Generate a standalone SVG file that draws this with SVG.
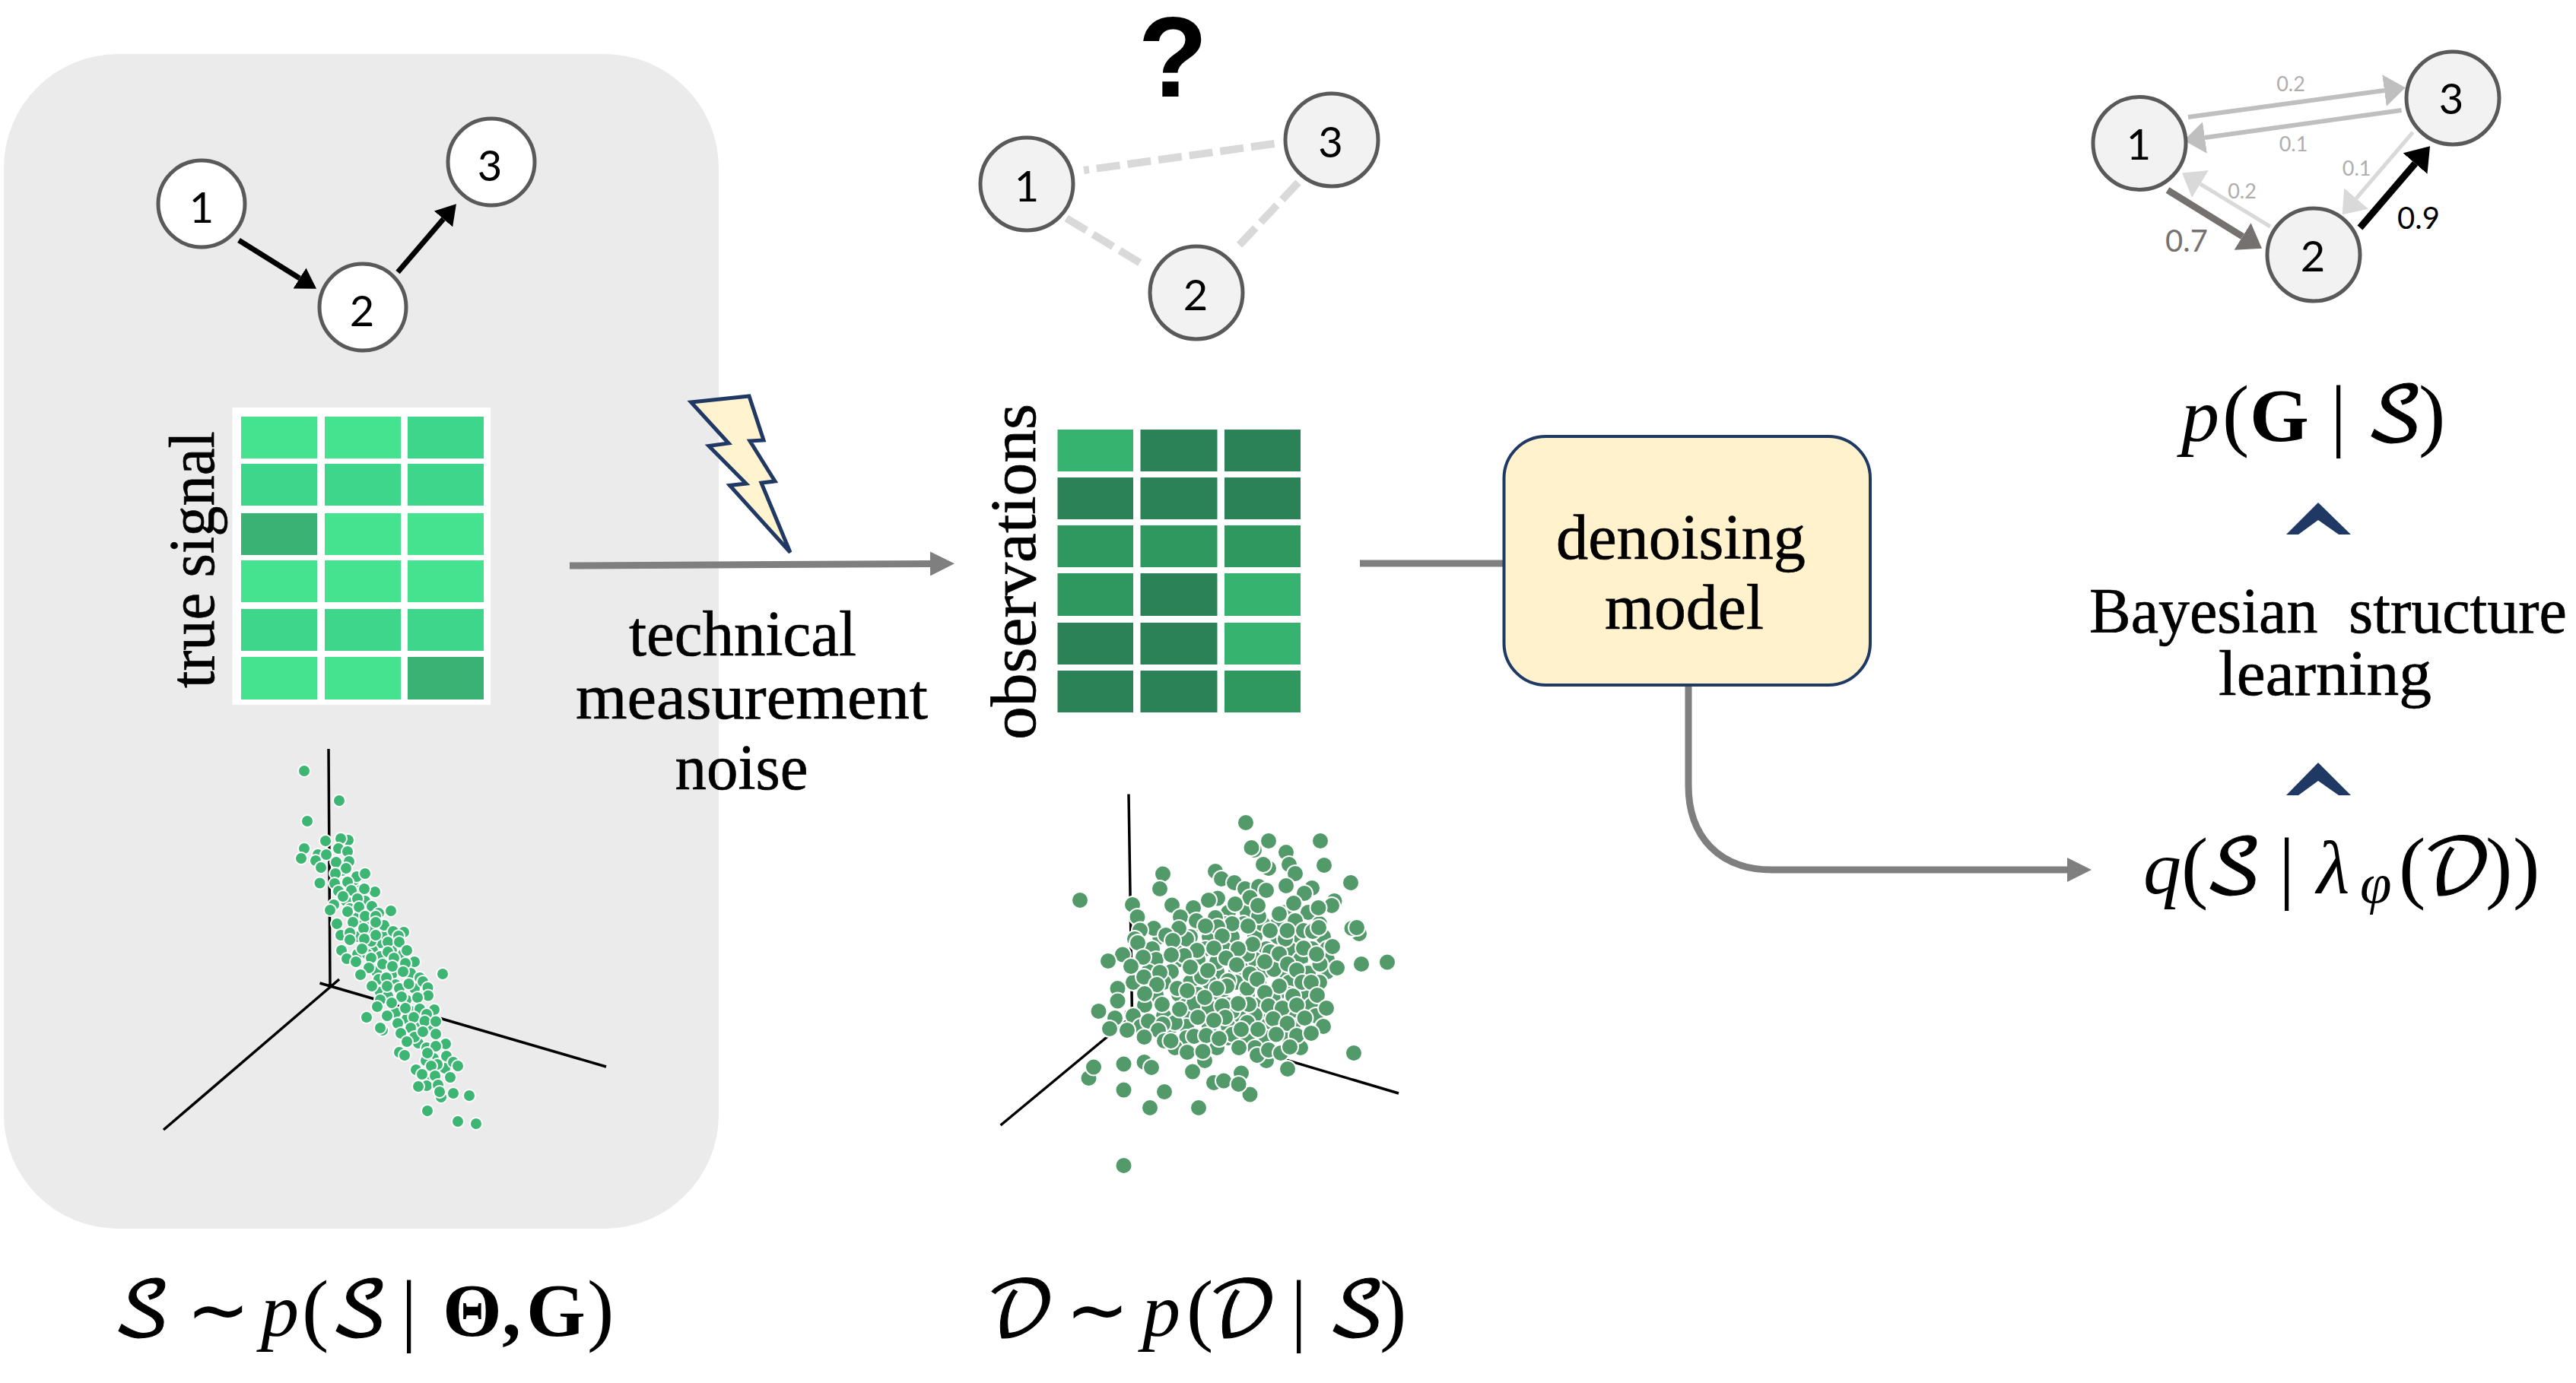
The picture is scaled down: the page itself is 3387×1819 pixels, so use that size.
<svg xmlns="http://www.w3.org/2000/svg" width="3387" height="1819" viewBox="0 0 3387 1819">
<style>
.s{font-family:"Liberation Serif","Times New Roman",serif;fill:#000;stroke:#000;stroke-width:.7}
.big{font-size:85px}
.n{font-family:Lato,"Open Sans",sans-serif;font-size:56px;text-anchor:middle;fill:#000}
.e{font-family:Lato,"Open Sans",sans-serif;text-anchor:middle}
.wn{fill:#fff;stroke:#595959;stroke-width:5}
.gn{fill:#f2f2f2;stroke:#595959;stroke-width:5}
.m{font-family:"Liberation Serif",serif;font-size:100px;fill:#000}
.i{font-style:italic}
.b{font-weight:bold}
.c{font-family:"DejaVu Math TeX Gyre","Noto Sans Math","DejaVu Serif","DejaVu Sans",serif;font-style:normal;stroke:#000;stroke-width:1}
.p{font-size:106px}
.d1 circle{fill:#3DB573;stroke:#fff;stroke-width:2;r:8px}
.d2 circle{fill:#529A69;stroke:#fff;stroke-width:2;r:11px}
.ax{stroke:#000;stroke-width:3.5;fill:none}
.a{fill:#45E390}.b1{fill:#3ED68A}.c1{fill:#3AB273}
.L{fill:#36B36F}.D{fill:#2A8256}.M{fill:#2F985F}
.gl{stroke:#7f7f7f;stroke-width:9;fill:none}
.dash{stroke:#d9d9d9;stroke-width:10;stroke-dasharray:31 10;fill:none}
.chev{fill:#1F3864}
</style>
<defs>
<marker id="hk" markerUnits="userSpaceOnUse" markerWidth="26" markerHeight="32" refX="0" refY="16" orient="auto" viewBox="0 0 26 32"><path d="M0 0L26 16L0 32z" fill="#000"/></marker>
<marker id="hg" markerUnits="userSpaceOnUse" markerWidth="32" markerHeight="32" refX="0" refY="16" orient="auto" viewBox="0 0 32 32"><path d="M0 0L32 16L0 32z" fill="#7f7f7f"/></marker>
<marker id="hb" markerUnits="userSpaceOnUse" markerWidth="28" markerHeight="42" refX="0" refY="21" orient="auto" viewBox="0 0 28 42"><path d="M0 0L28 21L0 42z" fill="#bfbfbf"/></marker>
<marker id="hl" markerUnits="userSpaceOnUse" markerWidth="28" markerHeight="42" refX="0" refY="21" orient="auto" viewBox="0 0 28 42"><path d="M0 0L28 21L0 42z" fill="#d9d9d9"/></marker>
<marker id="hd" markerUnits="userSpaceOnUse" markerWidth="30" markerHeight="42" refX="0" refY="21" orient="auto" viewBox="0 0 30 42"><path d="M0 0L30 21L0 42z" fill="#767171"/></marker>
<marker id="hK" markerUnits="userSpaceOnUse" markerWidth="30" markerHeight="42" refX="0" refY="21" orient="auto" viewBox="0 0 30 42"><path d="M0 0L30 21L0 42z" fill="#000"/></marker>
</defs>

<rect id="signal-panel" x="5" y="71" width="940" height="1545" rx="150" ry="150" fill="#ebebeb"/>

<g id="connectors" fill="none">
<path d="M314 316L394 366" stroke="#000" stroke-width="7" marker-end="url(#hk)"/>
<path d="M523 358L583 288" stroke="#000" stroke-width="7" marker-end="url(#hk)"/>
<path class="dash" d="M1675.600 189L1425 224"/>
<path class="dash" d="M1402 287L1501 347"/>
<path class="dash" d="M1707 240L1627 325"/>
<path class="gl" d="M749 744L1223 741.500" marker-end="url(#hg)"/>
<path class="gl" d="M1788 741H1977"/>
<path class="gl" d="M2220 901V1033C2220 1100 2260 1144 2330 1144H2718" marker-end="url(#hg)"/>
<path d="M2877 154L3135 119" stroke="#bfbfbf" stroke-width="6" marker-end="url(#hb)"/>
<path d="M3157.500 145L2899 181" stroke="#bfbfbf" stroke-width="6" marker-end="url(#hb)"/>
<path d="M2850 250L2948.500 311" stroke="#767171" stroke-width="9" marker-end="url(#hd)"/>
<path d="M2985 298L2893 242" stroke="#d9d9d9" stroke-width="5" marker-end="url(#hl)"/>
<path d="M3103 299.500L3175.500 215" stroke="#000" stroke-width="9" marker-end="url(#hK)"/>
<path d="M3172.500 174L3098 261" stroke="#d9d9d9" stroke-width="5" marker-end="url(#hl)"/>
</g>

<g id="true-graph">
<g id="t1"><circle class="wn" cx="265" cy="268" r="57"/><text class="n" x="265" y="293">1</text></g>
<g id="t2"><circle class="wn" cx="477" cy="404" r="57"/><text class="n" x="476" y="429">2</text></g>
<g id="t3"><circle class="wn" cx="646" cy="213" r="57"/><text class="n" x="644" y="238">3</text></g>
</g>

<g id="signal-table">
<rect x="305.500" y="536" width="339.500" height="391" fill="#fff"/>
<rect class="a" x="317" y="548" width="100" height="55"/><rect class="a" x="427" y="548" width="100" height="55"/><rect class="b1" x="536" y="548" width="100" height="55"/>
<rect class="b1" x="317" y="610" width="100" height="55"/><rect class="b1" x="427" y="610" width="100" height="55"/><rect class="b1" x="536" y="610" width="100" height="55"/>
<rect class="c1" x="317" y="675" width="100" height="55"/><rect class="a" x="427" y="675" width="100" height="55"/><rect class="a" x="536" y="675" width="100" height="55"/>
<rect class="a" x="317" y="737" width="100" height="55"/><rect class="a" x="427" y="737" width="100" height="55"/><rect class="a" x="536" y="737" width="100" height="55"/>
<rect class="b1" x="317" y="801" width="100" height="55"/><rect class="b1" x="427" y="801" width="100" height="55"/><rect class="b1" x="536" y="801" width="100" height="55"/>
<rect class="a" x="317" y="864" width="100" height="56"/><rect class="a" x="427" y="864" width="100" height="56"/><rect class="c1" x="536" y="864" width="100" height="56"/>
<text class="s big" transform="translate(281 905) rotate(-90)" textLength="338" lengthAdjust="spacingAndGlyphs">true signal</text>
</g>

<g id="signal-scatter">
<path class="ax" d="M432 985L434 1297M215 1486L446 1288M420.500 1293L797 1403"/>
<g class="d1">
<circle cx="450" cy="1145"/><circle cx="465" cy="1160"/><circle cx="455" cy="1185"/><circle cx="480" cy="1185"/><circle cx="465" cy="1205"/><circle cx="490" cy="1222"/><circle cx="470" cy="1232"/><circle cx="500" cy="1240"/><circle cx="515" cy="1250"/><circle cx="490" cy="1250"/><circle cx="470" cy="1255"/><circle cx="500" cy="1258"/><circle cx="525" cy="1265"/><circle cx="495" cy="1278"/><circle cx="515" cy="1282"/><circle cx="540" cy="1280"/><circle cx="520" cy="1295"/><circle cx="500" cy="1305"/><circle cx="545" cy="1300"/><circle cx="525" cy="1300"/><circle cx="510" cy="1310"/><circle cx="540" cy="1330"/><circle cx="520" cy="1332"/><circle cx="550" cy="1345"/><circle cx="535" cy="1340"/><circle cx="565" cy="1350"/><circle cx="550" cy="1372"/><circle cx="570" cy="1392"/><circle cx="580" cy="1405"/><circle cx="560" cy="1395"/><circle cx="585" cy="1405"/><circle cx="575" cy="1400"/><circle cx="565" cy="1420"/><circle cx="478" cy="1215"/><circle cx="488" cy="1238"/><circle cx="505" cy="1228"/><circle cx="530" cy="1255"/><circle cx="460" cy="1195"/><circle cx="475" cy="1170"/>
<circle cx="400" cy="1014"/><circle cx="446" cy="1053"/><circle cx="404" cy="1080"/><circle cx="458" cy="1105"/><circle cx="448" cy="1103"/><circle cx="428" cy="1106"/><circle cx="400" cy="1116"/><circle cx="396" cy="1129"/><circle cx="418" cy="1124"/><circle cx="415" cy="1132"/><circle cx="445" cy="1116"/><circle cx="457" cy="1120"/><circle cx="429" cy="1124"/><circle cx="459" cy="1133"/><circle cx="442" cy="1134"/><circle cx="422" cy="1141"/><circle cx="455" cy="1142"/><circle cx="441" cy="1149"/><circle cx="469" cy="1153"/><circle cx="480" cy="1149"/><circle cx="420.500" cy="1161.500"/><circle cx="440" cy="1162"/><circle cx="457" cy="1160"/><circle cx="462" cy="1171"/><circle cx="493" cy="1173"/><circle cx="479" cy="1169"/><circle cx="445" cy="1172"/><circle cx="451" cy="1179"/><circle cx="470" cy="1182"/><circle cx="439" cy="1190"/><circle cx="489" cy="1192"/><circle cx="472" cy="1193"/><circle cx="434" cy="1197"/><circle cx="457" cy="1199"/><circle cx="514" cy="1198"/><circle cx="498" cy="1201"/><circle cx="480" cy="1205"/><circle cx="494" cy="1205"/><circle cx="505" cy="1217"/><circle cx="494" cy="1213"/><circle cx="443" cy="1215"/><circle cx="464" cy="1213"/><circle cx="478" cy="1221"/><circle cx="531" cy="1226"/><circle cx="517" cy="1225"/><circle cx="448" cy="1230"/><circle cx="460" cy="1227"/><circle cx="460" cy="1236"/><circle cx="524" cy="1231"/><circle cx="494" cy="1230"/><circle cx="479" cy="1235"/><circle cx="510" cy="1239"/><circle cx="525" cy="1239"/><circle cx="483" cy="1255"/><circle cx="476" cy="1248"/><circle cx="449" cy="1250"/><circle cx="510" cy="1252"/><circle cx="535" cy="1250"/><circle cx="456" cy="1261"/><circle cx="488" cy="1260"/><circle cx="518" cy="1260"/><circle cx="468" cy="1265"/><circle cx="503" cy="1268"/><circle cx="545" cy="1265"/><circle cx="533" cy="1267"/><circle cx="485" cy="1273"/><circle cx="516" cy="1271"/><circle cx="474" cy="1282"/><circle cx="530" cy="1278"/><circle cx="582" cy="1281"/><circle cx="552" cy="1286"/><circle cx="498" cy="1288"/><circle cx="508" cy="1286"/><circle cx="556" cy="1291"/><circle cx="537.500" cy="1294"/><circle cx="489" cy="1297"/><circle cx="509" cy="1297"/><circle cx="562.500" cy="1299"/><circle cx="563" cy="1309.500"/><circle cx="500" cy="1315"/><circle cx="534" cy="1315"/><circle cx="528" cy="1311"/><circle cx="549" cy="1312"/><circle cx="515" cy="1319"/><circle cx="496" cy="1324"/><circle cx="533" cy="1326"/><circle cx="552" cy="1327"/><circle cx="571" cy="1328"/><circle cx="482" cy="1338"/><circle cx="509" cy="1336"/><circle cx="561" cy="1334"/><circle cx="544" cy="1338"/><circle cx="558.500" cy="1343"/><circle cx="573" cy="1343.500"/><circle cx="523" cy="1346"/><circle cx="503" cy="1355"/><circle cx="500" cy="1352"/><circle cx="540" cy="1352"/><circle cx="527" cy="1359"/><circle cx="545" cy="1364"/><circle cx="556" cy="1357"/><circle cx="573" cy="1360"/><circle cx="535" cy="1370"/><circle cx="586" cy="1373"/><circle cx="561" cy="1378"/><circle cx="573" cy="1376"/><circle cx="562" cy="1385"/><circle cx="525" cy="1384"/><circle cx="532" cy="1388"/><circle cx="587" cy="1389"/><circle cx="596" cy="1397"/><circle cx="602" cy="1402"/><circle cx="567" cy="1402"/><circle cx="547" cy="1407"/><circle cx="572" cy="1415"/><circle cx="555" cy="1413"/><circle cx="592" cy="1417"/><circle cx="561" cy="1428"/><circle cx="550" cy="1429"/><circle cx="576" cy="1427"/><circle cx="580" cy="1443"/><circle cx="578" cy="1436"/><circle cx="596" cy="1438"/><circle cx="617" cy="1441"/><circle cx="562" cy="1461"/><circle cx="602" cy="1475"/><circle cx="626" cy="1478"/>
</g>
</g>

<g id="noise-bolt"><path d="M908.600 529L985 521L1004 579L986 580L1019 633L1001 635L1039 726.500L959.500 638.500L981 636L932 586.500L958 583Z" fill="#fff2cc" fill-opacity=".92" stroke="#1F3864" stroke-width="5"/></g>

<g id="noise-label">
<text class="s big" x="827" y="862" textLength="299" lengthAdjust="spacingAndGlyphs">technical</text>
<text class="s big" x="757" y="945" textLength="463" lengthAdjust="spacingAndGlyphs">measurement</text>
<text class="s big" x="887.500" y="1038" textLength="175" lengthAdjust="spacingAndGlyphs">noise</text>
</g>

<text id="question" x="1542" y="127" font-family="Liberation Sans,Arial,sans-serif" font-weight="bold" font-size="150" text-anchor="middle">?</text>

<g id="unknown-graph">
<g id="o1"><circle class="gn" cx="1350" cy="242" r="61"/><text class="n" x="1350" y="265">1</text></g>
<g id="o2"><circle class="gn" cx="1573" cy="385" r="61"/><text class="n" x="1572" y="408">2</text></g>
<g id="o3"><circle class="gn" cx="1751" cy="184" r="61"/><text class="n" x="1749.500" y="207">3</text></g>
</g>

<g id="obs-table">
<rect class="L" x="1390.500" y="565" width="99.500" height="55"/><rect class="D" x="1499.500" y="565" width="101" height="55"/><rect class="D" x="1610" y="565" width="100" height="55"/>
<rect class="D" x="1390.500" y="628" width="99.500" height="55"/><rect class="D" x="1499.500" y="628" width="101" height="55"/><rect class="D" x="1610" y="628" width="100" height="55"/>
<rect class="M" x="1390.500" y="691" width="99.500" height="55"/><rect class="M" x="1499.500" y="691" width="101" height="55"/><rect class="M" x="1610" y="691" width="100" height="55"/>
<rect class="M" x="1390.500" y="754" width="99.500" height="56"/><rect class="D" x="1499.500" y="754" width="101" height="56"/><rect class="L" x="1610" y="754" width="100" height="56"/>
<rect class="D" x="1390.500" y="819" width="99.500" height="55"/><rect class="D" x="1499.500" y="819" width="101" height="55"/><rect class="L" x="1610" y="819" width="100" height="55"/>
<rect class="D" x="1390.500" y="882" width="99.500" height="55"/><rect class="D" x="1499.500" y="882" width="101" height="55"/><rect class="M" x="1610" y="882" width="100" height="55"/>
<text class="s big" transform="translate(1361 973) rotate(-90)" textLength="442" lengthAdjust="spacingAndGlyphs">observations</text>
</g>

<g id="obs-scatter">
<path class="ax" d="M1484 1044.500L1488.600 1343M1315.600 1480L1506 1322M1479 1331L1839 1438"/>
<g class="d2">
<circle cx="1615" cy="1200"/><circle cx="1640" cy="1200"/><circle cx="1690" cy="1200"/><circle cx="1720" cy="1200"/><circle cx="1575" cy="1215"/><circle cx="1610" cy="1215"/><circle cx="1635" cy="1215"/><circle cx="1680" cy="1215"/><circle cx="1700" cy="1215"/><circle cx="1735" cy="1215"/><circle cx="1525" cy="1232"/><circle cx="1565" cy="1232"/><circle cx="1590" cy="1232"/><circle cx="1620" cy="1232"/><circle cx="1650" cy="1232"/><circle cx="1680" cy="1232"/><circle cx="1705" cy="1232"/><circle cx="1740" cy="1232"/><circle cx="1515" cy="1248"/><circle cx="1555" cy="1248"/><circle cx="1585" cy="1248"/><circle cx="1610" cy="1248"/><circle cx="1640" cy="1248"/><circle cx="1665" cy="1248"/><circle cx="1695" cy="1248"/><circle cx="1725" cy="1248"/><circle cx="1745" cy="1248"/><circle cx="1520" cy="1262"/><circle cx="1550" cy="1262"/><circle cx="1575" cy="1262"/><circle cx="1605" cy="1262"/><circle cx="1635" cy="1262"/><circle cx="1650" cy="1262"/><circle cx="1680" cy="1262"/><circle cx="1710" cy="1262"/><circle cx="1745" cy="1262"/><circle cx="1510" cy="1278"/><circle cx="1540" cy="1278"/><circle cx="1570" cy="1278"/><circle cx="1600" cy="1278"/><circle cx="1625" cy="1278"/><circle cx="1660" cy="1278"/><circle cx="1690" cy="1278"/><circle cx="1720" cy="1278"/><circle cx="1745" cy="1278"/><circle cx="1490" cy="1292"/><circle cx="1530" cy="1292"/><circle cx="1565" cy="1292"/><circle cx="1590" cy="1292"/><circle cx="1625" cy="1292"/><circle cx="1655" cy="1292"/><circle cx="1695" cy="1292"/><circle cx="1735" cy="1292"/><circle cx="1520" cy="1308"/><circle cx="1550" cy="1308"/><circle cx="1575" cy="1308"/><circle cx="1605" cy="1308"/><circle cx="1640" cy="1308"/><circle cx="1675" cy="1308"/><circle cx="1695" cy="1308"/><circle cx="1720" cy="1308"/><circle cx="1505" cy="1322"/><circle cx="1560" cy="1322"/><circle cx="1585" cy="1322"/><circle cx="1615" cy="1322"/><circle cx="1655" cy="1322"/><circle cx="1695" cy="1322"/><circle cx="1725" cy="1322"/><circle cx="1490" cy="1336"/><circle cx="1530" cy="1336"/><circle cx="1560" cy="1336"/><circle cx="1590" cy="1336"/><circle cx="1630" cy="1336"/><circle cx="1660" cy="1336"/><circle cx="1700" cy="1336"/><circle cx="1730" cy="1336"/><circle cx="1500" cy="1350"/><circle cx="1540" cy="1350"/><circle cx="1560" cy="1350"/><circle cx="1590" cy="1350"/><circle cx="1615" cy="1350"/><circle cx="1665" cy="1350"/><circle cx="1700" cy="1350"/><circle cx="1740" cy="1350"/><circle cx="1560" cy="1365"/><circle cx="1590" cy="1365"/><circle cx="1615" cy="1365"/><circle cx="1640" cy="1365"/><circle cx="1665" cy="1365"/><circle cx="1695" cy="1365"/><circle cx="1545" cy="1378"/><circle cx="1600" cy="1378"/><circle cx="1650" cy="1378"/><circle cx="1710" cy="1378"/>
<circle cx="1620" cy="1215"/><circle cx="1660" cy="1215"/><circle cx="1560" cy="1235"/><circle cx="1615" cy="1290"/><circle cx="1640" cy="1300"/><circle cx="1580" cy="1285"/><circle cx="1620" cy="1330"/><circle cx="1650" cy="1335"/><circle cx="1700" cy="1310"/><circle cx="1720" cy="1280"/><circle cx="1675" cy="1275"/><circle cx="1640" cy="1255"/><circle cx="1600" cy="1265"/><circle cx="1570" cy="1320"/><circle cx="1545" cy="1345"/><circle cx="1590" cy="1325"/><circle cx="1640" cy="1345"/><circle cx="1690" cy="1235"/><circle cx="1655" cy="1205"/>
<circle cx="1638" cy="1082"/><circle cx="1668" cy="1106"/><circle cx="1649" cy="1118"/><circle cx="1645.500" cy="1115"/><circle cx="1736" cy="1106"/><circle cx="1691" cy="1121"/><circle cx="1668" cy="1142"/><circle cx="1661" cy="1137"/><circle cx="1741" cy="1138"/><circle cx="1695" cy="1137"/><circle cx="1703" cy="1149"/><circle cx="1776" cy="1161"/><circle cx="1725" cy="1168"/><circle cx="1691" cy="1165"/><circle cx="1529" cy="1149.500"/><circle cx="1525" cy="1169"/><circle cx="1598" cy="1146"/><circle cx="1606" cy="1156"/><circle cx="1623" cy="1161"/><circle cx="1420" cy="1184"/><circle cx="1489" cy="1190"/><circle cx="1495.500" cy="1206"/><circle cx="1541" cy="1190.500"/><circle cx="1601" cy="1181.500"/><circle cx="1589" cy="1184"/><circle cx="1637" cy="1169"/><circle cx="1655" cy="1166"/><circle cx="1665" cy="1171"/><circle cx="1715" cy="1175"/><circle cx="1754.500" cy="1185"/><circle cx="1751" cy="1191"/><circle cx="1733.500" cy="1194"/><circle cx="1643.500" cy="1180.500"/><circle cx="1624" cy="1189"/><circle cx="1654" cy="1191"/><circle cx="1701" cy="1188"/><circle cx="1682" cy="1202"/><circle cx="1569" cy="1194"/><circle cx="1552" cy="1206"/><circle cx="1573" cy="1211"/><circle cx="1598" cy="1207"/><circle cx="1601" cy="1219"/><circle cx="1585" cy="1218"/><circle cx="1641" cy="1218"/><circle cx="1703" cy="1211"/><circle cx="1670" cy="1224"/><circle cx="1692.500" cy="1224"/><circle cx="1714" cy="1224"/><circle cx="1726" cy="1225"/><circle cx="1734" cy="1220"/><circle cx="1787" cy="1228"/><circle cx="1777.500" cy="1221"/><circle cx="1784" cy="1220"/><circle cx="1517" cy="1221"/><circle cx="1499" cy="1223.500"/><circle cx="1550" cy="1221"/><circle cx="1533" cy="1230"/><circle cx="1542" cy="1237"/><circle cx="1492" cy="1235"/><circle cx="1496" cy="1240"/><circle cx="1607" cy="1231"/><circle cx="1647" cy="1242"/><circle cx="1628" cy="1248"/><circle cx="1596" cy="1247"/><circle cx="1714" cy="1247"/><circle cx="1752" cy="1245"/><circle cx="1574" cy="1250"/><circle cx="1670" cy="1252"/><circle cx="1682" cy="1254.500"/><circle cx="1557" cy="1257"/><circle cx="1540" cy="1256"/><circle cx="1503" cy="1259"/><circle cx="1476" cy="1255.500"/><circle cx="1457" cy="1264"/><circle cx="1487" cy="1271"/><circle cx="1612" cy="1260"/><circle cx="1758" cy="1273"/><circle cx="1735.500" cy="1268"/><circle cx="1731" cy="1255"/><circle cx="1626" cy="1269"/><circle cx="1663" cy="1265"/><circle cx="1693" cy="1268"/><circle cx="1790" cy="1268"/><circle cx="1824" cy="1265.500"/><circle cx="1565" cy="1272"/><circle cx="1588" cy="1276.500"/><circle cx="1504" cy="1285"/><circle cx="1525" cy="1279"/><circle cx="1643.500" cy="1281"/><circle cx="1653" cy="1288"/><circle cx="1705" cy="1276"/><circle cx="1712" cy="1292"/><circle cx="1724" cy="1292"/><circle cx="1682" cy="1297"/><circle cx="1613" cy="1297"/><circle cx="1600" cy="1300"/><circle cx="1548" cy="1300"/><circle cx="1561" cy="1303"/><circle cx="1521" cy="1295"/><circle cx="1469.500" cy="1300"/><circle cx="1505" cy="1307"/><circle cx="1732" cy="1309"/><circle cx="1663" cy="1305.500"/><circle cx="1584" cy="1312"/><circle cx="1469.500" cy="1316.500"/><circle cx="1444.500" cy="1330"/><circle cx="1528" cy="1321"/><circle cx="1551" cy="1327.500"/><circle cx="1642" cy="1321"/><circle cx="1628" cy="1320"/><circle cx="1668" cy="1323"/><circle cx="1686" cy="1326"/><circle cx="1705" cy="1322"/><circle cx="1744" cy="1326"/><circle cx="1607" cy="1323"/><circle cx="1575" cy="1338"/><circle cx="1611" cy="1338"/><circle cx="1596" cy="1342"/><circle cx="1466" cy="1339"/><circle cx="1674" cy="1340"/><circle cx="1715.500" cy="1339"/><circle cx="1692.500" cy="1346"/><circle cx="1510" cy="1343"/><circle cx="1529" cy="1347"/><circle cx="1523" cy="1355"/><circle cx="1459" cy="1353"/><circle cx="1482" cy="1355"/><circle cx="1504.500" cy="1364"/><circle cx="1531" cy="1369"/><circle cx="1539.500" cy="1369"/><circle cx="1570" cy="1363"/><circle cx="1620.500" cy="1360.500"/><circle cx="1632" cy="1354"/><circle cx="1654" cy="1354"/><circle cx="1678" cy="1360.500"/><circle cx="1705" cy="1362"/><circle cx="1724" cy="1359"/><circle cx="1586" cy="1362"/><circle cx="1603" cy="1366"/><circle cx="1584" cy="1395"/><circle cx="1561" cy="1384"/><circle cx="1581.500" cy="1383"/><circle cx="1629" cy="1378"/><circle cx="1665" cy="1395"/><circle cx="1653" cy="1388"/><circle cx="1668" cy="1381"/><circle cx="1684" cy="1385"/><circle cx="1696" cy="1377"/><circle cx="1780" cy="1385"/><circle cx="1693" cy="1406"/><circle cx="1431.500" cy="1418"/><circle cx="1438" cy="1403.500"/><circle cx="1477.500" cy="1399.500"/><circle cx="1504.500" cy="1397"/><circle cx="1514" cy="1404"/><circle cx="1568" cy="1409.500"/><circle cx="1632" cy="1411.500"/><circle cx="1596" cy="1424"/><circle cx="1609" cy="1421.500"/><circle cx="1643.500" cy="1439.500"/><circle cx="1628.600" cy="1426"/><circle cx="1477.500" cy="1433.600"/><circle cx="1531" cy="1436"/><circle cx="1512" cy="1457"/><circle cx="1576" cy="1457"/><circle cx="1477.500" cy="1533"/>
</g>
</g>

<g id="denoising-model">
<rect x="1977.500" y="574" width="481.500" height="327" rx="55" ry="55" fill="#fff2cc" stroke="#1F3864" stroke-width="4"/>
<text class="s big" x="2046" y="735" textLength="328" lengthAdjust="spacingAndGlyphs">denoising</text>
<text class="s big" x="2110" y="827" textLength="209" lengthAdjust="spacingAndGlyphs">model</text>
</g>

<g id="posterior-graph">
<g id="p1"><circle class="gn" cx="2813" cy="188.500" r="61"/><text class="n" x="2812" y="209.500">1</text></g>
<g id="p2"><circle class="gn" cx="3042" cy="335" r="61"/><text class="n" x="3041" y="357">2</text></g>
<g id="p3"><circle class="gn" cx="3225" cy="129" r="61"/><text class="n" x="3223" y="150">3</text></g>
<g id="edge-labels">
<text class="e" x="3012" y="120" font-size="27" fill="#aeaeae">0.2</text>
<text class="e" x="3015.500" y="199" font-size="27" fill="#aeaeae">0.1</text>
<text class="e" x="2948" y="261" font-size="27" fill="#aeaeae">0.2</text>
<text class="e" x="3098.600" y="231" font-size="27" fill="#aeaeae">0.1</text>
<text class="e" x="2875" y="331" font-size="40" fill="#767171">0.7</text>
<text class="e" x="3180" y="301" font-size="40" fill="#000">0.9</text>
</g>
</g>

<g id="chevrons">
<path class="chev" d="M3006 703L3048 661L3091 703H3075L3048 684L3022 703Z"/>
<path class="chev" d="M3006 1046L3048 1003L3091 1046H3075L3048 1027L3022 1046Z"/>
</g>

<g id="bayes-label">
<text class="s big" x="2747" y="832" style="white-space:pre" textLength="628" lengthAdjust="spacingAndGlyphs">Bayesian  structure</text>
<text class="s big" x="2917" y="914" textLength="280" lengthAdjust="spacingAndGlyphs">learning</text>
</g>

<text id="formula-posterior" class="m" y="580"><tspan class="i" x="2868">p</tspan><tspan class="p" x="2922">(</tspan><tspan class="b" x="2958">G</tspan><tspan class="p" x="3064">|</tspan><tspan class="c" x="3110">𝒮</tspan><tspan class="p" x="3180">)</tspan></text>

<text id="formula-q" class="m" y="1175"><tspan class="i" x="2818">q</tspan><tspan class="p" x="2868">(</tspan><tspan class="c" x="2898">𝒮</tspan><tspan class="p" x="2996">|</tspan><tspan class="i" x="3046">λ</tspan><tspan class="i" x="3103" y="1187" font-size="75">φ</tspan><tspan class="p" x="3154" y="1175">(</tspan><tspan class="c" x="3185">𝒟</tspan><tspan class="p" x="3268">)</tspan><tspan class="p" x="3304">)</tspan></text>

<text id="formula-signal" class="m" y="1757"><tspan class="c" x="148">𝒮</tspan><tspan x="245">∼</tspan><tspan class="i" x="343">p</tspan><tspan class="p" x="397">(</tspan><tspan class="c" x="434">𝒮</tspan><tspan class="p" x="527">|</tspan><tspan class="b" x="582">Θ</tspan><tspan class="b" x="660">,</tspan><tspan class="b" x="692">G</tspan><tspan class="p" x="772">)</tspan></text>

<text id="formula-obs" class="m" y="1757"><tspan class="c" x="1296">𝒟</tspan><tspan x="1401">∼</tspan><tspan class="i" x="1502">p</tspan><tspan class="p" x="1560">(</tspan><tspan class="c" x="1588">𝒟</tspan><tspan class="p" x="1697">|</tspan><tspan class="c" x="1745">𝒮</tspan><tspan class="p" x="1814">)</tspan></text>
</svg>
